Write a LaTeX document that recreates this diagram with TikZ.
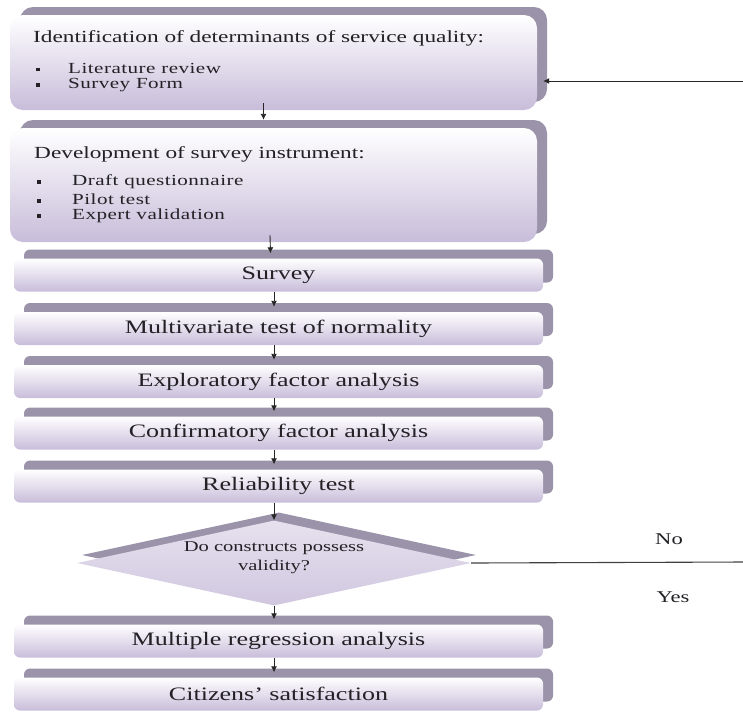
\documentclass[tikz,border=0pt]{standalone}
\usepackage{fontspec}
\setmainfont{Liberation Serif}[FakeStretch=1.37]
\usetikzlibrary{shapes.geometric,shadows,arrows.meta,calc}
\definecolor{shadowc}{RGB}{155,147,170}
\definecolor{lav}{RGB}{200,189,218}
\definecolor{txt}{RGB}{35,33,38}
\newcommand{\sqbul}{\raisebox{0.25ex}{\rule{3.6pt}{3.6pt}}}
\begin{document}
\begin{tikzpicture}[x=1pt,y=-1pt,
  bigbox/.style={rounded corners=13pt, top color=white, bottom color=lav, draw=none,
    general shadow={fill=shadowc, shadow xshift=10pt, shadow yshift=8pt},
    minimum width=527pt, inner sep=0pt},
  stepbox/.style={rounded corners=6pt, top color=white, bottom color=lav, draw=none,
    general shadow={fill=shadowc, shadow xshift=10pt, shadow yshift=9pt},
    minimum width=529pt, minimum height=33pt, inner sep=0pt, text=txt,
    font=\fontsize{19}{22}\selectfont},
  titletext/.style={anchor=west, inner sep=0pt, text=txt, font=\fontsize{17}{19}\selectfont},
  itemtext/.style={anchor=west, inner sep=0pt, text=txt, font=\fontsize{15.4}{18}\selectfont\addfontfeature{LetterSpace=3}},
  lbl/.style={inner sep=0pt, text=txt, font=\fontsize{16.5}{19}\selectfont},
  arr/.style={-{Latex[length=6pt,width=6pt]}, line width=0.9pt, draw=black!85},
  ln/.style={line width=1.1pt, draw=black!75}
]
\useasboundingbox (0,0) rectangle (743,713);

% top boxes
\node[bigbox, minimum height=95pt] (b1) at (273.5,62.5) {};
\node[titletext] (t1) at (33,38) {Identification of determinants of service quality:};
\node[itemtext] (i1a) at (36,68) {\makebox[32pt][l]{\sqbul}Literature review};
\node[itemtext] (i1b) at (36,85) {\makebox[32pt][l]{\sqbul}Survey Form};

\node[bigbox, minimum height=114pt] (b2) at (273.5,185) {};
\node[titletext] (t2) at (34,154) {Development of survey instrument:};
\node[itemtext] (i2a) at (37,182) {\makebox[35pt][l]{\sqbul}Draft questionnaire};
\node[itemtext] (i2b) at (37,199) {\makebox[35pt][l]{\sqbul}Pilot test};
\node[itemtext] (i2c) at (37,216) {\makebox[35pt][l]{\sqbul}Expert validation};

% step boxes
\node[stepbox] (sv) at (278.5,275) {Survey};
\node[stepbox] (mv) at (278.5,328.5) {Multivariate test of normality};
\node[stepbox] (ex) at (278.5,381.5) {Exploratory factor analysis};
\node[stepbox] (cf) at (278.5,433) {Confirmatory factor analysis};
\node[stepbox] (rl) at (278.5,486) {Reliability test};

% decision
\node[diamond, aspect=4.6, minimum width=394pt, minimum height=85pt, inner sep=0pt,
  top color=lav!45!white, bottom color=lav!85!white, draw=none,
  general shadow={fill=shadowc, shadow xshift=5pt, shadow yshift=8pt}] (dec) at (274,563) {};
\node[align=center, inner sep=0pt, text=txt, font=\fontsize{15}{19}\selectfont] (dect) at (274,558)
  {Do constructs possess\\validity?};

\node[stepbox] (mr) at (278.5,641) {Multiple regression analysis};
\node[stepbox] (cs) at (278.5,694) {Citizens' satisfaction};

% arrows
\draw[arr] ([xshift=-10pt,yshift=7pt]b1.south) -- ([xshift=-10pt,yshift=8pt]b2.north);
\draw[arr] ([xshift=-3.5pt,yshift=7pt]b2.south) -- ([xshift=-8pt,yshift=5pt]sv.north);
\draw[arr] ([xshift=-4.5pt]sv.south) -- ([xshift=-4.5pt,yshift=5pt]mv.north);
\draw[arr] ([xshift=-4.5pt]mv.south) -- ([xshift=-4.5pt,yshift=5pt]ex.north);
\draw[arr] ([xshift=-4.5pt]ex.south) -- ([xshift=-4.5pt,yshift=5pt]cf.north);
\draw[arr] ([xshift=-4.5pt]cf.south) -- ([xshift=-4.5pt,yshift=5pt]rl.north);
\draw[arr] ([xshift=-4.5pt]rl.south) -- (dec.north);
\draw[arr] (dec.south) -- ([xshift=-4.5pt,yshift=5pt]mr.north);
\draw[arr] ([xshift=-4.5pt]mr.south) -- ([xshift=-4.5pt,yshift=5pt]cs.north);

% feedback
\coordinate (fb) at (743,81);
\draw[arr] (fb) -- ($(b1.east |- fb)+(6,0)$);
\coordinate (noend) at (743,562);
\draw[ln] (dec.east) -- (noend);
\node[lbl] (no) at (669,539) {No};
\node[lbl] (yes) at (673,597) {Yes};
\end{tikzpicture}
\end{document}
